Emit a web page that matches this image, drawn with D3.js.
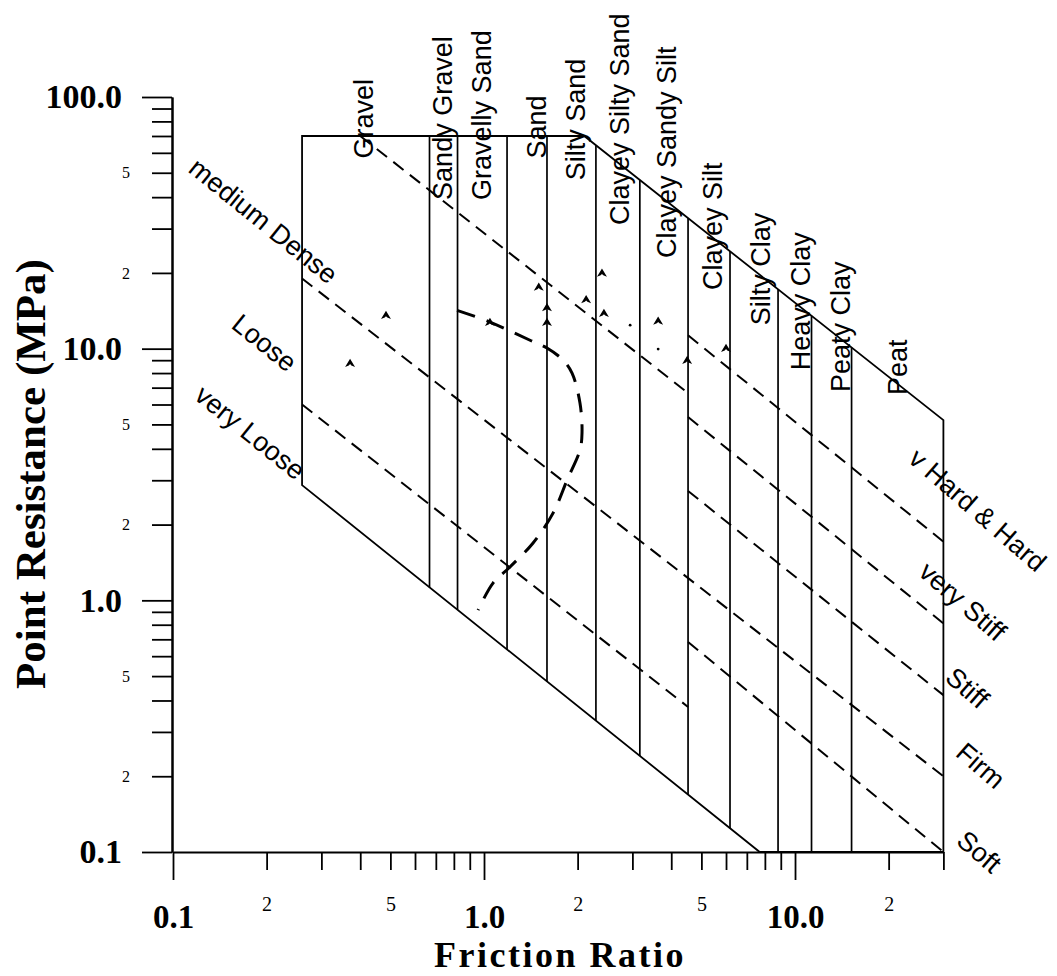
<!DOCTYPE html>
<html>
<head>
<meta charset="utf-8">
<script src="https://cdn.jsdelivr.net/npm/d3@7"></script>
<style>
  body { margin: 0; background: #fff; }
  svg { display: block; }
</style>
</head>
<body>
<svg id="chart" width="1057" height="976"></svg>
<script>
// ---------------- DATA ----------------
const xDomain = [0.1, 30];          // Friction Ratio
const yDomain = [0.1, 100];         // Point Resistance (MPa)

const xMajorTicks = [0.1, 1, 10];
const xMajorLabels = ["0.1", "1.0", "10.0"];
const xMinorTicks = [0.2, 0.3, 0.4, 0.5, 0.6, 0.7, 0.8, 0.9, 2, 3, 4, 5, 6, 7, 8, 9, 20, 30];
const xMinorLabelValues = [0.2, 0.5, 2, 5, 20];
const xMinorLabels = ["2", "5", "2", "5", "2"];

const yMajorTicks = [0.1, 1, 10, 100];
const yMajorLabels = ["0.1", "1.0", "10.0", "100.0"];
const yMinorTicks = [0.2, 0.3, 0.4, 0.5, 0.6, 0.7, 0.8, 0.9, 2, 3, 4, 5, 6, 7, 8, 9, 20, 30, 40, 50, 60, 70, 80, 90];
const yMinorLabelValues = [0.2, 0.5, 2, 5, 20, 50];
const yMinorLabels = ["2", "5", "2", "5", "2", "5"];

// chart outline (Rf, qc)
const topEdge = [[0.26, 70], [2.1, 70], [30, 5.2]];
const bottomEdge = [[0.26, 2.87], [7.7, 0.1], [30, 0.1]];

// soil type boundaries (Rf)
const soilBoundaries = [0.668, 0.822, 1.186, 1.594, 2.29, 3.17, 4.53, 6.18, 8.82, 11.3, 15.2];
const soilTypes = ["Gravel", "Sandy Gravel", "Gravelly Sand", "Sand", "Silty Sand",
  "Clayey Silty Sand", "Clayey Sandy Silt", "Clayey Silt", "Silty Clay",
  "Heavy Clay", "Peaty Clay", "Peat"];
const soilLabelRf = [0.408, 0.733, 0.978, 1.469, 1.962, 2.717, 3.85, 5.41, 7.72, 10.38, 13.95, 21.3];
const soilLabelQc = [57, 39, 39, 57, 46.7, 31, 22.9, 17.1, 12.4, 8.2, 6.72, 6.54];

// density (sand) lines: [[Rf,qc],[Rf,qc]]
const densityLines = [
  [[0.4, 70], [4.53, 6.66]],
  [[0.26, 19], [30, 0.2]],
  [[0.26, 6.0], [4.53, 0.377]]
];
const densityLabels = ["medium Dense", "Loose", "very Loose"];
const densityLabelRf = [0.111, 0.1526, 0.116];
const densityLabelQc = [50.8, 12.2, 6.36];

// consistency (clay) lines
const consistencyLines = [
  [[4.53, 11.3], [30, 1.71]],
  [[4.53, 5.35], [30, 0.81]],
  [[4.53, 2.72], [30, 0.42]],
  [[4.53, 0.683], [30, 0.1]]
];
const consistencyLabels = ["v Hard & Hard", "very Stiff", "Stiff", "Firm", "Soft"];
const consistencyLabelRf = [22.9, 24.7, 30.1, 32.5, 32.7];
const consistencyLabelQc = [3.58, 1.27, 0.483, 0.243, 0.1086];

// curved dashed line
const curveRf = [0.819, 1.045, 1.406, 1.594, 1.795, 1.919, 2.035, 2.066, 2.035, 1.849, 1.667, 1.438, 1.212, 1.069, 0.957];
const curveQc = [14.2, 12.76, 10.8, 10.06, 9.01, 8.0, 6.08, 4.62, 3.96, 3.0, 2.22, 1.69, 1.357, 1.171, 0.915];

// measured points
const pointRf = [0.371, 0.484, 1.045, 1.50, 1.594, 1.594, 2.13, 2.395, 2.43, 3.63, 4.50, 6.0];
const pointQc = [8.77, 13.6, 12.76, 17.6, 14.6, 12.76, 15.7, 20.0, 13.85, 12.9, 9.01, 10.06];
const dotRf = [2.95, 3.63];
const dotQc = [12.4, 9.96];

// ---------------- SCALES ----------------
const x = d3.scaleLog().domain(xDomain).range([173, 943.4]);
const y = d3.scaleLog().domain(yDomain).range([852, 97]);

const svg = d3.select("#chart");
const serif = "'Liberation Serif', 'Times New Roman', serif";
const sans = "'Liberation Sans', Arial, sans-serif";

function logInterp(pts, rf) {
  for (let i = 0; i < pts.length - 1; i++) {
    const [x0, y0] = pts[i], [x1, y1] = pts[i + 1];
    if (rf >= x0 && rf <= x1) {
      const t = (Math.log10(rf) - Math.log10(x0)) / (Math.log10(x1) - Math.log10(x0));
      return Math.pow(10, Math.log10(y0) + t * (Math.log10(y1) - Math.log10(y0)));
    }
  }
  return pts[pts.length - 1][1];
}

const line = d3.line().x(d => x(d[0])).y(d => y(d[1]));

// ---------------- AXES ----------------
function styleAxis(g) {
  g.select(".domain").attr("stroke", "#000").attr("stroke-width", 2);
  g.selectAll(".tick line").attr("stroke", "#000").attr("stroke-width", 1.8);
  g.selectAll(".tick text").attr("fill", "#000");
}

// Y axis
const yMinorG = svg.append("g").attr("transform", `translate(${x(0.1) - 1},0)`)
  .call(d3.axisLeft(y).tickValues(yMinorTicks).tickSize(20).tickSizeOuter(0).tickPadding(22)
    .tickFormat(d => { const i = yMinorLabelValues.indexOf(d); return i >= 0 ? yMinorLabels[i] : ""; }));
styleAxis(yMinorG);
yMinorG.selectAll(".tick text").style("font-family", serif).style("font-size", "16px");

const yMajorG = svg.append("g").attr("transform", `translate(${x(0.1) - 1},0)`)
  .call(d3.axisLeft(y).tickValues(yMajorTicks).tickSize(30).tickSizeOuter(0).tickPadding(20)
    .tickFormat((d, i) => yMajorLabels[i]));
styleAxis(yMajorG);
yMajorG.selectAll(".tick text").style("font-family", serif).style("font-size", "34px").style("font-weight", "bold");

// X axis
const xMinorG = svg.append("g").attr("transform", `translate(0,${y(0.1)})`)
  .call(d3.axisBottom(x).tickValues(xMinorTicks).tickSize(18).tickSizeOuter(0)
    .tickFormat(d => { const i = xMinorLabelValues.indexOf(d); return i >= 0 ? xMinorLabels[i] : ""; }));
styleAxis(xMinorG);
xMinorG.selectAll(".tick text").attr("y", 59).attr("dy", 0)
  .style("font-family", serif).style("font-size", "20px");

const xMajorG = svg.append("g").attr("transform", `translate(0,${y(0.1)})`)
  .call(d3.axisBottom(x).tickValues(xMajorTicks).tickSize(28).tickSizeOuter(0)
    .tickFormat((d, i) => xMajorLabels[i]));
xMajorG.select(".domain").remove();
styleAxis(xMajorG);
xMajorG.selectAll(".tick text").attr("y", 76).attr("dy", 0)
  .style("font-family", serif).style("font-size", "33px").style("font-weight", "bold");

// Axis titles
svg.append("text")
  .attr("transform", "translate(45,474) rotate(-90)")
  .attr("text-anchor", "middle")
  .style("font-family", serif).style("font-size", "43px").style("font-weight", "bold")
  .text("Point Resistance (MPa)");

svg.append("text")
  .attr("x", 560).attr("y", 967)
  .attr("text-anchor", "middle")
  .style("font-family", serif).style("font-size", "36px").style("font-weight", "bold")
  .style("letter-spacing", "2.5px")
  .text("Friction Ratio");

// ---------------- CHART BODY ----------------
const plot = svg.append("g");

// outline
const outline = topEdge.concat([[30, 0.1], [7.7, 0.1], [0.26, 2.87]]);
plot.append("path")
  .attr("d", line(outline) + "Z")
  .attr("fill", "none").attr("stroke", "#000").attr("stroke-width", 1.8);

// soil boundaries
plot.selectAll(".soilb").data(soilBoundaries).join("line")
  .attr("class", "soilb")
  .attr("x1", d => x(d)).attr("x2", d => x(d))
  .attr("y1", d => y(logInterp(bottomEdge, d)))
  .attr("y2", d => y(logInterp(topEdge, d)))
  .attr("stroke", "#000").attr("stroke-width", 1.7);

// dashed lines
plot.selectAll(".dens").data(densityLines.concat(consistencyLines)).join("path")
  .attr("class", "dens")
  .attr("d", d => line(d))
  .attr("fill", "none").attr("stroke", "#000").attr("stroke-width", 2)
  .attr("stroke-dasharray", "13,8");

// curved dashed line
const curvePts = curveRf.map((r, i) => [r, curveQc[i]]);
plot.append("path")
  .attr("d", d3.line().x(d => x(d[0])).y(d => y(d[1])).curve(d3.curveCatmullRom.alpha(0.5))(curvePts))
  .attr("fill", "none").attr("stroke", "#000").attr("stroke-width", 3)
  .attr("stroke-dasharray", "19,12");

// points (arrow-head like triangles)
const arrowHead = {
  draw(ctx, size) {
    const r = Math.sqrt(size) / 2;
    ctx.moveTo(0, -r * 1.0);
    ctx.lineTo(r * 1.15, r * 0.9);
    ctx.lineTo(r * 0.3, r * 0.55);
    ctx.lineTo(0, r * 0.25);
    ctx.lineTo(-r * 0.3, r * 0.55);
    ctx.lineTo(-r * 1.15, r * 0.9);
    ctx.closePath();
  }
};
plot.selectAll(".pt").data(pointRf.map((r, i) => [r, pointQc[i]])).join("path")
  .attr("class", "pt")
  .attr("transform", d => `translate(${x(d[0])},${y(d[1])})`)
  .attr("d", d3.symbol().type(arrowHead).size(75))
  .attr("fill", "#000");
plot.selectAll(".dot").data(dotRf.map((r, i) => [r, dotQc[i]])).join("circle")
  .attr("class", "dot")
  .attr("cx", d => x(d[0])).attr("cy", d => y(d[1])).attr("r", 1.4)
  .attr("fill", "#000");

// soil type labels
plot.selectAll(".soilLabel").data(soilTypes).join("text")
  .attr("class", "soilLabel")
  .attr("transform", (d, i) => `translate(${x(soilLabelRf[i]) + 10},${y(soilLabelQc[i])}) rotate(-90)`)
  .style("font-family", sans).style("font-size", "27px")
  .text(d => d);

// density labels
plot.selectAll(".densLabel").data(densityLabels).join("text")
  .attr("class", "densLabel")
  .attr("transform", (d, i) => `translate(${x(densityLabelRf[i])},${y(densityLabelQc[i])}) rotate(39)`)
  .style("font-family", sans).style("font-size", "27px")
  .text(d => d);

// consistency labels
plot.selectAll(".consLabel").data(consistencyLabels).join("text")
  .attr("class", "consLabel")
  .attr("transform", (d, i) => `translate(${x(consistencyLabelRf[i])},${y(consistencyLabelQc[i])}) rotate(41)`)
  .style("font-family", sans).style("font-size", "27px")
  .text(d => d);
</script>
</body>
</html>
